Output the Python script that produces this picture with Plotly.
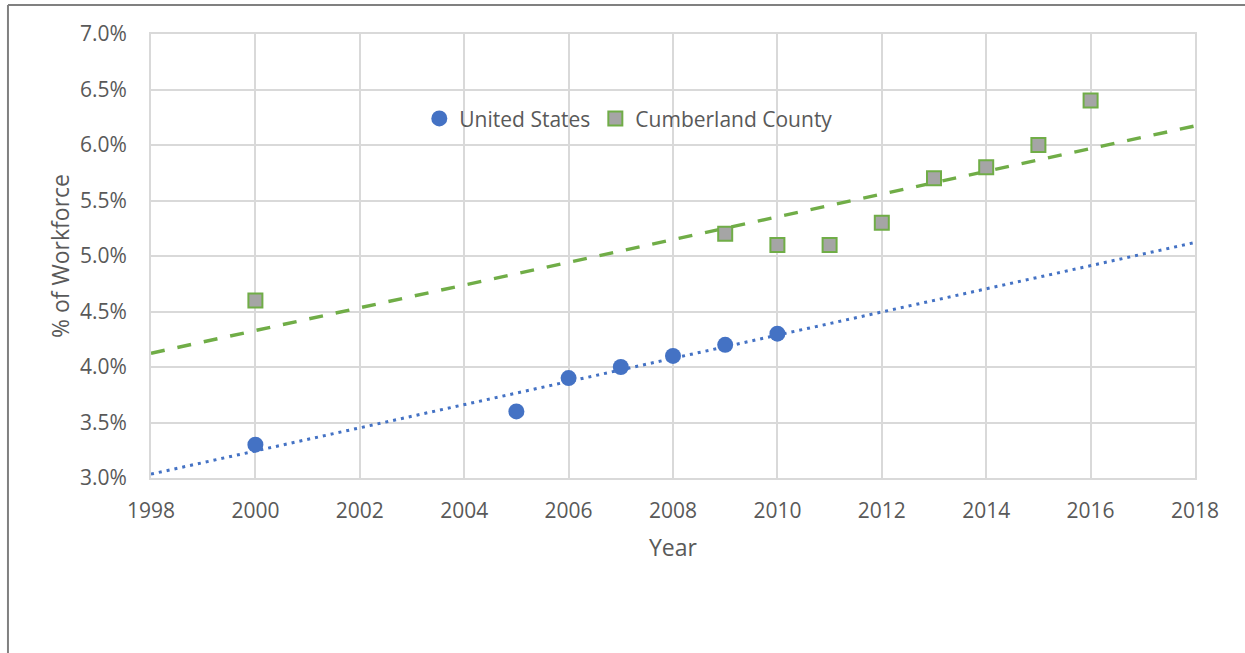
import numpy as np
import plotly.graph_objects as go

us_years = [2000, 2005, 2006, 2007, 2008, 2009, 2010]
us_values = [3.3, 3.6, 3.9, 4.0, 4.1, 4.2, 4.3]
cc_years = [2000, 2009, 2010, 2011, 2012, 2013, 2014, 2015, 2016]
cc_values = [4.6, 5.2, 5.1, 5.1, 5.3, 5.7, 5.8, 6.0, 6.4]
x_range = [1998, 2018]
x_ticks = list(range(1998, 2019, 2))
y_ticks = [3.0, 3.5, 4.0, 4.5, 5.0, 5.5, 6.0, 6.5, 7.0]
y_tick_labels = ["3.0%", "3.5%", "4.0%", "4.5%", "5.0%", "5.5%", "6.0%", "6.5%", "7.0%"]

BLUE = "#4472C4"
GREEN = "#70AD47"
GRAY_FILL = "#A5A5A5"
TXT = "#595959"
GRID = "#D9D9D9"
FONT = "Open Sans, Liberation Sans, sans-serif"

def trend(xs, ys):
    m, b = np.polyfit(xs, ys, 1)
    xx = np.array(x_range, dtype=float)
    return xx, m * xx + b

fig = go.Figure()
tx, ty = trend(us_years, us_values)
fig.add_trace(go.Scatter(x=tx, y=ty, mode="lines", showlegend=False,
                         line=dict(color=BLUE, width=3, dash="3px,5px"), hoverinfo="skip"))
tx2, ty2 = trend(cc_years, cc_values)
fig.add_trace(go.Scatter(x=tx2, y=ty2, mode="lines", showlegend=False,
                         line=dict(color=GREEN, width=3.5, dash="14px,13px"), hoverinfo="skip"))
fig.add_trace(go.Scatter(x=us_years, y=us_values, mode="markers", name="United States",
                         marker=dict(symbol="circle", size=16, color=BLUE)))
fig.add_trace(go.Scatter(x=cc_years, y=cc_values, mode="markers", name="Cumberland County",
                         marker=dict(symbol="square", size=14, color=GRAY_FILL,
                                     line=dict(color=GREEN, width=2))))

fig.update_layout(
    width=1245, height=653,
    margin=dict(l=151, r=50, t=34, b=175),
    paper_bgcolor="white", plot_bgcolor="white",
    font=dict(family=FONT, color=TXT, size=20),
    legend=dict(orientation="h", x=0.257, y=0.809, xanchor="left", yanchor="middle",
                bgcolor="rgba(255,255,255,0)", font=dict(size=21, color=TXT, family=FONT),
                tracegroupgap=0),
    showlegend=True,
    shapes=[
        dict(type="line", xref="paper", yref="paper", x0=-0.137, x1=-0.137, y0=1.0653, y1=-0.42,
             line=dict(color="#808080", width=2)),
        dict(type="line", xref="paper", yref="paper", x0=-0.137, x1=1.07, y0=1.0653, y1=1.0653,
             line=dict(color="#808080", width=2)),
    ],
)
fig.update_xaxes(range=x_range, tickvals=x_ticks, showgrid=True, gridcolor=GRID, gridwidth=2,
                 zeroline=False, showline=True, linecolor=GRID, linewidth=2, mirror=True,
                 ticks="outside", ticklen=13, tickcolor="rgba(0,0,0,0)",
                 tickfont=dict(size=21, color=TXT, family=FONT),
                 title=dict(text="Year", font=dict(size=23, color=TXT, family=FONT), standoff=17))
fig.update_yaxes(range=[3.0, 7.0], tickvals=y_ticks, ticktext=y_tick_labels,
                 showgrid=True, gridcolor=GRID, gridwidth=2, zeroline=False,
                 showline=True, linecolor=GRID, linewidth=2, mirror=True,
                 ticks="outside", ticklen=18, tickcolor="rgba(0,0,0,0)",
                 tickfont=dict(size=21, color=TXT, family=FONT),
                 title=dict(text="% of Workforce", font=dict(size=23, color=TXT, family=FONT),
                            standoff=4))

fig.write_html("out.html", config={"displayModeBar": False},
               post_script="document.body.style.margin='0px';")
